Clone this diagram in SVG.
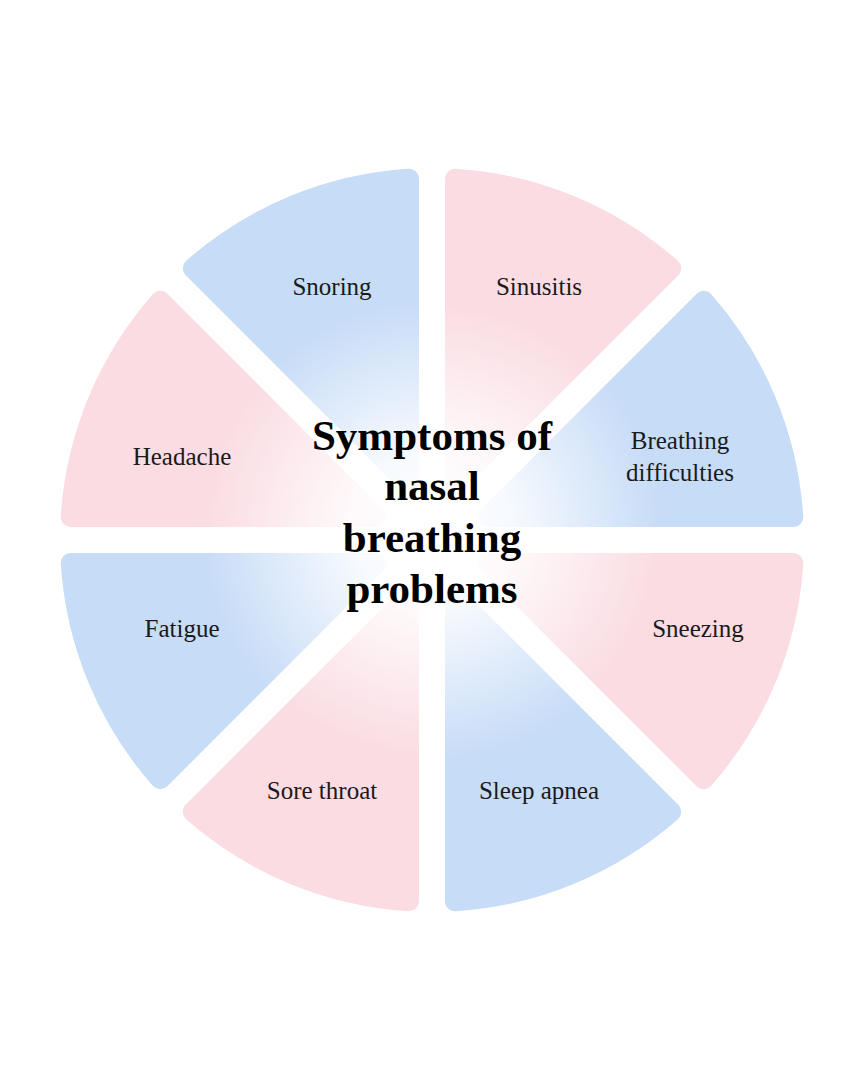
<svg xmlns="http://www.w3.org/2000/svg" xmlns:xlink="http://www.w3.org/1999/xlink" width="864" height="1080" viewBox="0 0 864 1080">
<style>
.pink{fill:#fadce2;stroke:#fadce2;stroke-width:20;stroke-linejoin:round}
.blue{fill:#c7dcf7;stroke:#c7dcf7;stroke-width:20;stroke-linejoin:round}
.lbl{font-family:"Liberation Serif","DejaVu Serif",serif;font-size:25px;fill:#1a1a1a;text-anchor:middle}
.title{font-family:"Liberation Serif","DejaVu Serif",serif;font-size:43px;font-weight:600;fill:#000;text-anchor:middle}
</style>
<defs>
<path id="wedge" d="M455,484.5 L455,178.7 A362,362 0 0 1 671.2,268.3 Z"/>
<radialGradient id="glow" cx="432" cy="530" r="230" gradientUnits="userSpaceOnUse">
<stop offset="0" stop-color="#fff" stop-opacity="1"/>
<stop offset="0.35" stop-color="#fff" stop-opacity="0.85"/>
<stop offset="1" stop-color="#fff" stop-opacity="0"/>
</radialGradient>
</defs>
<rect width="864" height="1080" fill="#fff"/>
<g id="sinusitis"><use xlink:href="#wedge" class="pink"/><text class="lbl" x="539" y="295">Sinusitis</text></g>
<g id="breathing"><use xlink:href="#wedge" class="blue" transform="rotate(45 432 540)"/></g>
<g id="sneezing"><use xlink:href="#wedge" class="pink" transform="rotate(90 432 540)"/></g>
<g id="sleep"><use xlink:href="#wedge" class="blue" transform="rotate(135 432 540)"/></g>
<g id="sore"><use xlink:href="#wedge" class="pink" transform="rotate(180 432 540)"/></g>
<g id="fatigue"><use xlink:href="#wedge" class="blue" transform="rotate(225 432 540)"/></g>
<g id="headache"><use xlink:href="#wedge" class="pink" transform="rotate(270 432 540)"/></g>
<g id="snoring"><use xlink:href="#wedge" class="blue" transform="rotate(315 432 540)"/></g>
<circle cx="432" cy="530" r="230" fill="url(#glow)"/>
<g id="labels">
<text class="lbl" x="332" y="295">Snoring</text>
<text class="lbl" x="680" y="449">Breathing</text>
<text class="lbl" x="680" y="481">difficulties</text>
<text class="lbl" x="182" y="465">Headache</text>
<text class="lbl" x="182" y="637">Fatigue</text>
<text class="lbl" x="698" y="637">Sneezing</text>
<text class="lbl" x="322" y="799">Sore throat</text>
<text class="lbl" x="539" y="799">Sleep apnea</text>
</g>
<g id="center">
<text class="title" x="432" y="450">Symptoms of</text>
<text class="title" x="432" y="500">nasal</text>
<text class="title" x="432" y="552">breathing</text>
<text class="title" x="432" y="603">problems</text>
</g>
</svg>
